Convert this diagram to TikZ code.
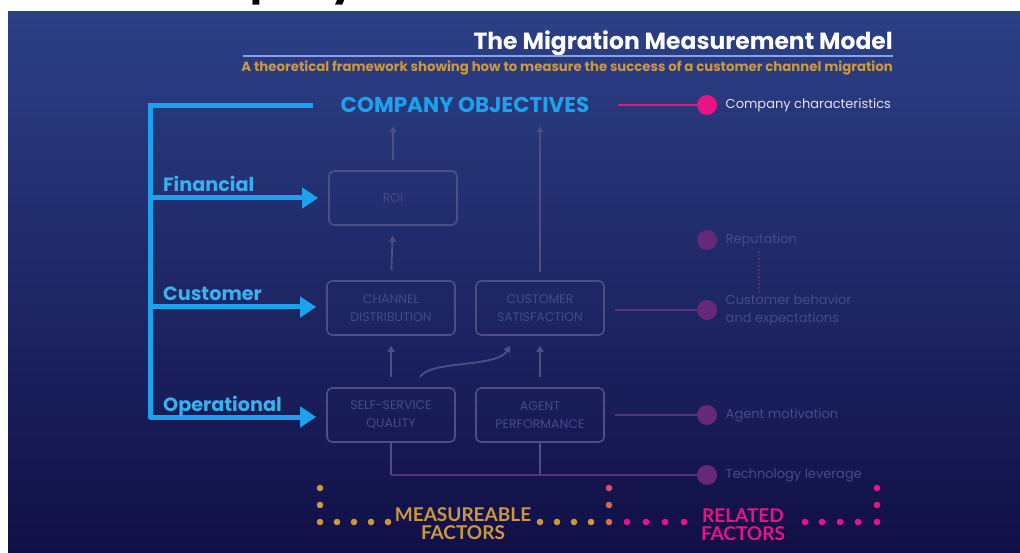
\documentclass[tikz,border=0pt]{standalone}
\usepackage{fontspec}
\setmainfont{Poppins}
\newfontfamily\latofont{Lato}
\usetikzlibrary{arrows.meta,positioning}

\definecolor{bgtop}{RGB}{44,64,134}
\definecolor{bgmid}{RGB}{33,42,112}
\definecolor{bgbot}{RGB}{17,15,70}
\definecolor{skyblue}{RGB}{28,162,236}
\definecolor{labelblue}{RGB}{58,176,238}
\definecolor{gold}{RGB}{204,152,62}
\definecolor{hotpink}{RGB}{232,20,132}
\definecolor{dimbox}{RGB}{78,78,132}
\definecolor{dimtext}{RGB}{70,76,136}
\definecolor{dimpink}{RGB}{104,40,120}
\definecolor{dimline}{RGB}{90,50,122}
\definecolor{rulecol}{RGB}{140,160,230}

\tikzset{
  factor/.style={draw=dimbox, line width=1.6pt, rounded corners=5pt,
    minimum width=128pt, minimum height=54pt, align=center,
    text=dimtext, font=\fontsize{12.5}{18}\selectfont},
  uparrow/.style={draw=dimbox, line width=1.8pt,
    -{Triangle[length=6pt,width=7pt]}, shorten <=10pt, shorten >=10pt},
  bluearrow/.style={draw=skyblue, line width=5pt,
    -{Triangle[length=16pt,width=20pt]}},
  bluelabel/.style={text=labelblue, font=\fontsize{19.2}{20}\selectfont\bfseries,
    anchor=base west, inner sep=0pt},
  dimdot/.style={circle, fill=dimpink, minimum size=20pt, inner sep=0pt},
  dimlabel/.style={text=dimtext, font=\fontsize{13}{18}\selectfont, align=left},
  golddot/.style={fill=gold},
  pinkdot/.style={fill=hotpink}
}

\begin{document}
\begin{tikzpicture}[x=1pt,y=-1pt]
  \useasboundingbox (0,0) rectangle (1020,553);

  % page edge and panel
  \fill[white] (0,0) rectangle (1020,553);
  \begin{scope}
    \clip (0,0) rectangle (1020,12);
    \node[anchor=base west, inner sep=0pt, text=black,
      font=\fontsize{40}{40}\selectfont\bfseries] (head) at (152,-5) {Company};
  \end{scope}
  \shade[top color=bgtop, middle color=bgmid, bottom color=bgbot] (8,12) rectangle (1020,553);

  % title
  \node[anchor=base east, inner sep=0pt, text=white,
    font=\fontsize{23.4}{24}\selectfont\bfseries] (title) at (893,50) {The Migration Measurement Model};
  \draw[rulecol, line width=1.5pt] (243,56) -- (893,56);
  \node[anchor=base east, inner sep=0pt, text=gold,
    font=\fontsize{13.3}{14}\selectfont\bfseries] (subtitle) at (893,72)
    {A theoretical framework showing how to measure the success of a customer channel migration};

  % objectives and boxes
  \node[text=skyblue, font=\fontsize{21.5}{22}\selectfont\bfseries] (obj) at (465,105) {COMPANY OBJECTIVES};
  \node[factor] (roi) at (393,198) {ROI};
  \node[factor] (chd) at (391,308) {CHANNEL\\DISTRIBUTION};
  \node[factor] (csat) at (540,308) {CUSTOMER\\SATISFACTION};
  \node[factor] (ssq) at (391,415) {SELF-SERVICE\\QUALITY};
  \node[factor] (agent) at (540,415) {AGENT\\PERFORMANCE};

  \draw[uparrow] (roi.north) -- (roi.north |- obj.south);
  \draw[uparrow, shorten <=8pt] (csat.north) -- (csat.north |- obj.south);
  \draw[uparrow] (chd.north) -- (roi.south);
  \draw[uparrow] (ssq.north) -- (chd.south);
  \draw[uparrow] (agent.north) -- (csat.south);
  \coordinate (bendstart) at (420,377);
  \coordinate (bendend) at (510,346);
  \draw[uparrow, shorten <=0pt, shorten >=0pt] (bendstart) .. controls (430,360) and (497,368) .. (bendend);

  % blue bracket
  \coordinate (brtop) at (150,106);
  \coordinate (brend) at (313,106);
  \draw[skyblue, line width=5pt] (brend) -- (brtop) -- (150,419);
  \foreach \lab/\bx/\yy in {Financial/roi/198, Customer/chd/307, Operational/ssq/417} {
    \coordinate (arrstart) at (150,\yy);
    \draw[bluearrow, shorten >=10pt] (arrstart) -- (arrstart -| \bx.west);
    \node[bluelabel] at (163,\yy-6) {\lab};
  }

  % related factors
  \node[circle, fill=hotpink, minimum size=20pt, inner sep=0pt] (codot) at (707,105) {};
  \node[text={rgb,255:red,226;green,226;blue,242}, font=\fontsize{13}{18}\selectfont, right=5pt of codot] (colab) {Company characteristics};
  \draw[hotpink, line width=2pt, shorten <=25pt] (obj.east) -- (codot);

  \node[dimdot] (repdot) at (707,240) {};
  \node[dimlabel, right=5pt of repdot] (replab) {Reputation};
  \node[dimdot] (cbdot) at (707,310) {};
  \node[dimlabel, right=5pt of cbdot] (cblab) {Customer behavior\\and expectations};
  \node[dimdot] (amdot) at (707,415) {};
  \node[dimlabel, right=5pt of amdot] (amlab) {Agent motivation};
  \node[dimdot] (tldot) at (707,475) {};
  \node[dimlabel, right=5pt of tldot] (tllab) {Technology leverage};

  \draw[dimline, line width=1.8pt, shorten <=10pt] (csat.east |- cbdot) -- (cbdot);
  \draw[dimline, line width=1.8pt, shorten <=10pt] (agent.east |- amdot) -- (amdot);
  \coordinate (dottop) at (759,251);
  \coordinate (dotbot) at (759,291);
  \draw[dimpink, line width=1.6pt, dotted] (dottop) -- (dotbot);

  \draw[dimbox, line width=1.6pt] (ssq.south) -- (ssq.south |- tldot);
  \draw[dimbox, line width=1.6pt] (agent.south) -- (agent.south |- tldot);
  \draw[dimline, line width=1.8pt] (ssq.south |- tldot) -- (tldot);

  % measureable / related brackets
  \foreach \yy in {488,505} \fill[golddot] (320,\yy) circle (3.3pt);
  \foreach \xx in {320,337,354,371,388,540,557,574,591} \fill[golddot] (\xx,522) circle (3.3pt);
  \fill[gold!40!hotpink] (609,488) circle (3.3pt);
  \fill[gold!60!hotpink] (609,505) circle (3.3pt);
  \fill[gold!70!hotpink] (609,522) circle (3.3pt);
  \foreach \xx in {627,646,665,684,805,822,840,858,877} \fill[pinkdot] (\xx,522) circle (3.3pt);
  \foreach \yy in {488,505} \fill[pinkdot] (877,\yy) circle (3.3pt);

  \node[text=gold, align=center, font=\latofont\fontsize{19}{18}\selectfont\bfseries] (meas) at (463,524) {MEASUREABLE\\FACTORS};
  \node[text=hotpink, align=center, font=\latofont\fontsize{19}{18}\selectfont\bfseries] (rel) at (743,525) {RELATED\\FACTORS};
\end{tikzpicture}
\end{document}
